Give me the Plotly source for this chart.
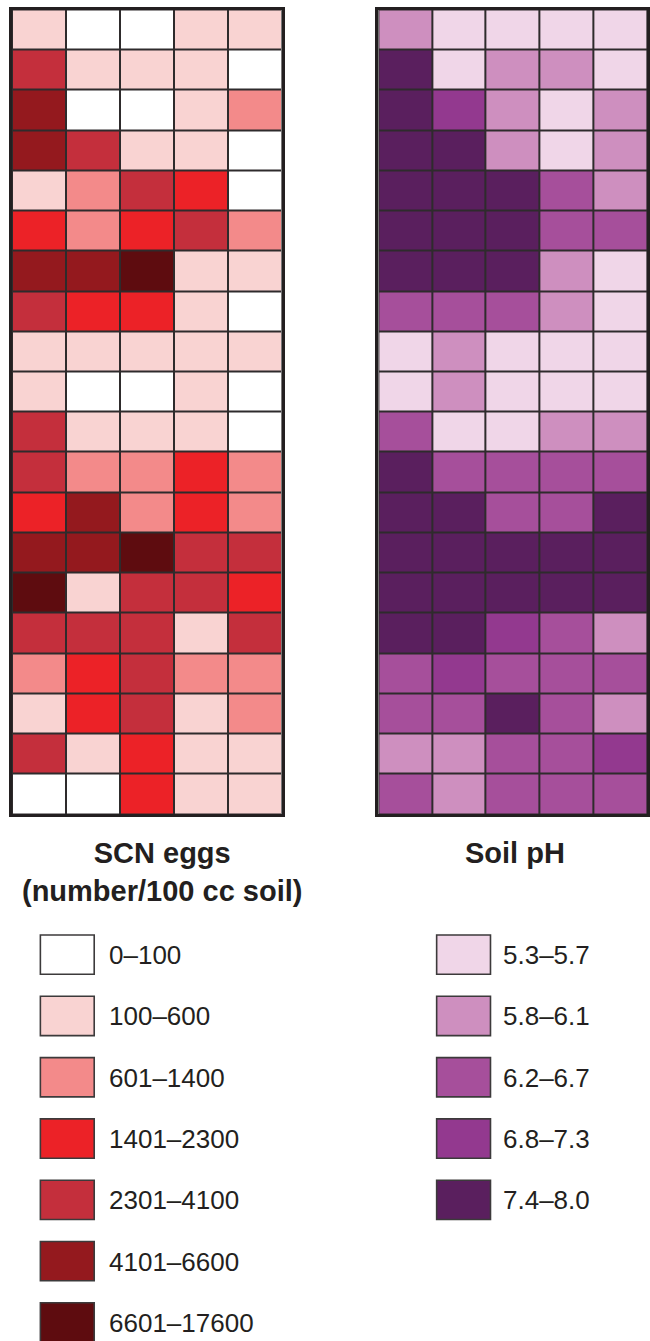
import plotly.graph_objects as go

# ---------------- data ----------------
scn_labels = ["0–100", "100–600", "601–1400", "1401–2300", "2301–4100", "4101–6600", "6601–17600"]
scn_colors = ["#FFFFFF", "#F9D3D2", "#F38A8A", "#EC2227", "#C42F3C", "#94191E", "#5E0C0F"]
ph_labels = ["5.3–5.7", "5.8–6.1", "6.2–6.7", "6.8–7.3", "7.4–8.0"]
ph_colors = ["#F0D6E8", "#CE8FBF", "#A64F9B", "#93398F", "#5A1F5E"]

# class index per cell, rows top to bottom, 5 columns
scn_class = [
    [1, 0, 0, 1, 1],
    [4, 1, 1, 1, 0],
    [5, 0, 0, 1, 2],
    [5, 4, 1, 1, 0],
    [1, 2, 4, 3, 0],
    [3, 2, 3, 4, 2],
    [5, 5, 6, 1, 1],
    [4, 3, 3, 1, 0],
    [1, 1, 1, 1, 1],
    [1, 0, 0, 1, 0],
    [4, 1, 1, 1, 0],
    [4, 2, 2, 3, 2],
    [3, 5, 2, 3, 2],
    [5, 5, 6, 4, 4],
    [6, 1, 4, 4, 3],
    [4, 4, 4, 1, 4],
    [2, 3, 4, 2, 2],
    [1, 3, 4, 1, 2],
    [4, 1, 3, 1, 1],
    [0, 0, 3, 1, 1],
]
ph_class = [
    [1, 0, 0, 0, 0],
    [4, 0, 1, 1, 0],
    [4, 3, 1, 0, 1],
    [4, 4, 1, 0, 1],
    [4, 4, 4, 2, 1],
    [4, 4, 4, 2, 2],
    [4, 4, 4, 1, 0],
    [2, 2, 2, 1, 0],
    [0, 1, 0, 0, 0],
    [0, 1, 0, 0, 0],
    [2, 0, 0, 1, 1],
    [4, 2, 2, 2, 2],
    [4, 4, 2, 2, 4],
    [4, 4, 4, 4, 4],
    [4, 4, 4, 4, 4],
    [4, 4, 3, 2, 1],
    [2, 3, 2, 2, 2],
    [2, 2, 4, 2, 1],
    [1, 1, 2, 2, 3],
    [2, 1, 2, 2, 2],
]
scn_title = "<b>SCN eggs<br>(number/100 cc soil)</b>"
ph_title = "<b>Soil pH</b>"

# ---------------- layout constants (pixels) ----------------
W, H = 650, 1341
FONT = "Liberation Sans, Arial, Helvetica, sans-serif"
INK = "#231F20"


def px(x):
    return x / W


def py(y):
    return 1 - y / H


def step_scale(colors):
    n = len(colors)
    cs = []
    for i, c in enumerate(colors):
        cs.append([i / n, c])
        cs.append([(i + 1) / n, c])
    return cs


n_rows = len(scn_class)
n_cols = len(scn_class[0])

fig = go.Figure()
fig.add_trace(go.Heatmap(
    z=scn_class, x=list(range(n_cols)), y=list(range(n_rows)),
    colorscale=step_scale(scn_colors), zmin=-0.5, zmax=len(scn_colors) - 0.5,
    showscale=False, xgap=2, ygap=2, hoverinfo="skip",
    xaxis="x", yaxis="y"))
fig.add_trace(go.Heatmap(
    z=ph_class, x=list(range(n_cols)), y=list(range(n_rows)),
    colorscale=step_scale(ph_colors), zmin=-0.5, zmax=len(ph_colors) - 0.5,
    showscale=False, xgap=2, ygap=2, hoverinfo="skip",
    xaxis="x2", yaxis="y2"))

grid_top, grid_bot = 9.5, 814
ax_common = dict(showticklabels=False, showgrid=False, zeroline=False, ticks="",
                 showline=True, linewidth=3, linecolor=INK, mirror=True, fixedrange=True)

fig.update_layout(
    width=W, height=H,
    margin=dict(l=0, r=0, t=0, b=0),
    paper_bgcolor="white",
    plot_bgcolor="#2E2B2C",
    showlegend=False,
    xaxis=dict(domain=[px(12), px(282.5)], range=[-0.5, n_cols - 0.5], **ax_common),
    yaxis=dict(domain=[py(grid_bot), py(grid_top)], range=[n_rows - 0.5, -0.5], **ax_common),
    xaxis2=dict(domain=[px(379.5), px(649)], range=[-0.5, n_cols - 0.5], **ax_common),
    yaxis2=dict(domain=[py(grid_bot), py(grid_top)], range=[n_rows - 0.5, -0.5],
                anchor="x2", **ax_common),
)
fig.layout.xaxis2.anchor = "y2"

annotations = [
    dict(text=scn_title, x=px(163), y=py(871.5), xref="paper", yref="paper",
         xanchor="center", yanchor="middle", showarrow=False,
         font=dict(family=FONT, size=29, color=INK)),
    dict(text=ph_title, x=px(517), y=py(853), xref="paper", yref="paper",
         xanchor="center", yanchor="middle", showarrow=False,
         font=dict(family=FONT, size=29, color=INK)),
]
shapes = []

leg_top0, leg_pitch, box_h = 935, 61.3, 39.3


def add_legend(labels, colors, box_x0, box_x1, text_x):
    for i, (lab, col) in enumerate(zip(labels, colors)):
        top = leg_top0 + i * leg_pitch
        shapes.append(dict(type="rect", xref="paper", yref="paper",
                           x0=px(box_x0), x1=px(box_x1), y0=py(top + box_h), y1=py(top),
                           fillcolor=col, line=dict(color="#3C3A3B", width=1.6)))
        annotations.append(dict(text=lab, x=px(text_x), y=py(top + box_h / 2 + 0.5),
                                xref="paper", yref="paper", xanchor="left", yanchor="middle",
                                showarrow=False,
                                font=dict(family=FONT, size=26, color=INK)))


add_legend(scn_labels, scn_colors, 40.5, 94.5, 107)
add_legend(ph_labels, ph_colors, 438, 492, 503)

fig.update_layout(annotations=annotations, shapes=shapes)
fig.write_html("out.html")
